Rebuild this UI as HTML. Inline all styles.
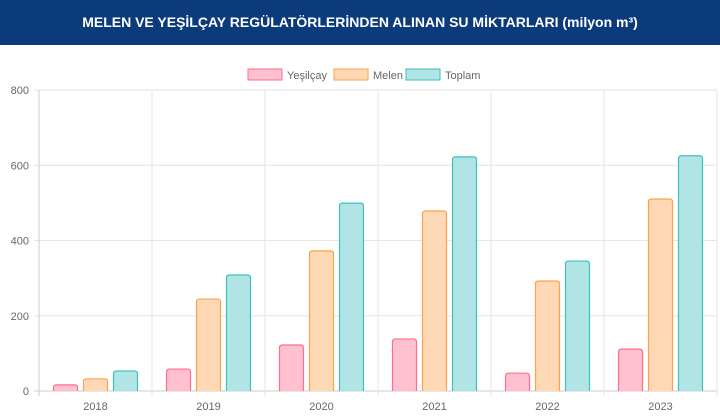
<!DOCTYPE html>
<html><head><meta charset="utf-8"><style>
body{margin:0;width:720px;height:420px;background:#fff;font-family:"Liberation Sans",sans-serif;overflow:hidden}
#hdr{height:45px;background:#0c3b7c;color:#fff;font-weight:bold;font-size:14px;text-align:center;line-height:44px}
</style></head><body>
<div id="hdr">MELEN VE YEŞİLÇAY REGÜLATÖRLERİNDEN ALINAN SU MİKTARLARI (milyon m³)</div>
<svg id="c" width="720" height="375" style="position:absolute;left:0;top:45px"></svg>
<script>
const categories=["2018","2019","2020","2021","2022","2023"];
const yesilcay=[19,61,125,141,50,114];
const melen=[35,247,375,481,295,513];
const toplam=[56,311,502,625,348,628];
const yTicks=[0,200,400,600,800];
const seriesNames=["Yeşilçay","Melen","Toplam"];
const fills=["#ffc0cf","#ffd8b5","#b1e5e5"],strokes=["#ff6d91","#ffa24c","#3cc0c0"];
const svg=document.getElementById('c'),NS="http://www.w3.org/2000/svg";
const X0=39,X1=717,Y0=346,Y1=45,MAX=800;
const y=v=>Y0-(v/MAX)*(Y0-Y1);
const bw=(X1-X0)/categories.length;
function el(t,a,p){const e=document.createElementNS(NS,t);for(const k in a)e.setAttribute(k,a[k]);(p||svg).appendChild(e);return e;}
yTicks.forEach(t=>{const l=el('line',{x1:X0-5,x2:X1,y1:y(t),y2:y(t),stroke:t==0?'#ccc':'#e6e6e6'});

const tx=el('text',{x:X0-10,y:y(t)+4,'text-anchor':'end','font-size':11,fill:'#666'});tx.textContent=t;
});
for(let i=0;i<=categories.length;i++){const l=el('line',{x1:X0+i*bw,x2:X0+i*bw,y1:Y1,y2:Y0+5,stroke:i==0?'#ccc':'#e6e6e6'});
}
const data=[yesilcay,melen,toplam];
categories.forEach((c,i)=>{const cx=X0+bw*(i+0.5);
const t=el('text',{x:cx,y:Y0+19,'text-anchor':'middle','font-size':11,fill:'#666'});t.textContent=c;

data.forEach((s,j)=>{const w=26,x=cx-43+j*30,top=y(s[i]);
const r=el('path',{d:`M${x+1},${Y0}V${top+4}q0,-3 3,-3h${w-8}q3,0 3,3V${Y0}`,fill:fills[j],stroke:strokes[j],'stroke-width':1.2});
});});
let lx=248;seriesNames.forEach((n,j)=>{const g=el('g',{});
el('rect',{x:lx,y:24,width:34,height:11,fill:fills[j],stroke:strokes[j]},g);
const t=el('text',{x:lx+39,y:34,'font-size':11,fill:'#666'},g);t.textContent=n;lx+=[86,72,0][j];});
</script>
</body></html>
